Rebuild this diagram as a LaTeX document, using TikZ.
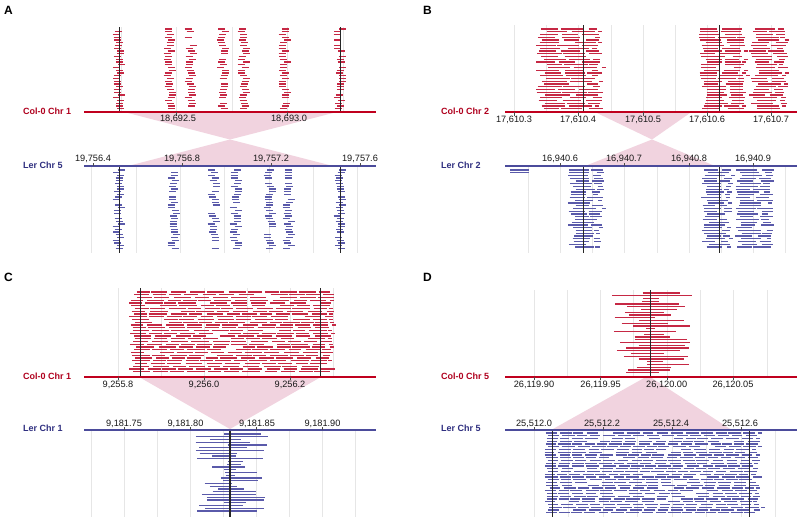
\documentclass[tikz,border=0pt]{standalone}
\usepackage{fontspec}
\setmainfont{Liberation Sans}
\definecolor{axred}{HTML}{C0001E}
\definecolor{labred}{HTML}{B0001E}
\definecolor{readred}{HTML}{C62844}
\definecolor{axblue}{HTML}{4B4B9B}
\definecolor{labblue}{HTML}{2F2F80}
\definecolor{readblue}{HTML}{5A5AAA}
\definecolor{pinkfill}{HTML}{F1D3DF}
\definecolor{gridc}{HTML}{E6E6E6}
\newcommand\fillrow[7]{%
  % #1 y, #2 start min, #3 start jitter, #4 xmax, #5 mean len, #6 len var, #7 max gap
  \pgfmathsetmacro\curx{#2+rnd*#3}%
  \pgfmathsetmacro\rowmax{#4-2+rnd*6}%
  \loop
    \pgfmathsetmacro\curlen{#5+(rnd-0.5)*#6}%
    \pgfmathsetmacro\curlen{max(4,min(\curlen,\rowmax-\curx))}%
    \draw (\curx,#1) -- ++(\curlen,0);
    \pgfmathsetmacro\curx{\curx+\curlen+1+rnd*#7+(rnd<0.07)*12}%
  \ifdim\curx pt<\rowmax pt
  \repeat
}
\newcommand\readcol[6]{% #1 xc, #2 y0, #3 n, #4 step, #5 len, #6 jitter
  \foreach \i in {1,...,#3} {
    \pgfmathsetmacro\yy{#2+(\i-1)*#4}
    \pgfmathsetmacro\xx{#1+(rnd-0.5)*#6-#5/2}
    \pgfmathparse{rnd<0.92}
    \ifdim\pgfmathresult pt>0.5pt \draw (\xx,\yy) -- ++(#5,0); \fi
  }
}
\newcommand\spanrow[5]{%
  \pgfmathsetmacro\xa{#2+rnd*#3}\pgfmathsetmacro\xb{#4+rnd*#5}%
  \draw (\xa,#1) -- (\xb,#1);
}
\tikzset{
  gridline/.style={draw=gridc, line width=0.6pt},
  pinkpoly/.style={fill=pinkfill, draw=none},
  rred/.style={draw=readred, line width=1.35pt},
  rblue/.style={draw=readblue, line width=1.3pt},
  bkline/.style={draw=black!85, line width=0.9pt},
  axisred/.style={draw=axred, line width=1.8pt},
  axisblue/.style={draw=axblue, line width=1.6pt},
  tickm/.style={draw=black!70, line width=0.5pt},
  ticklab/.style={font=\fontsize{9.2}{10}\selectfont, text=black!90, inner sep=0pt},
  chrred/.style={font=\bfseries\fontsize{9}{10}\selectfont, text=labred, anchor=west, inner sep=0pt},
  chrblue/.style={font=\bfseries\fontsize{9}{10}\selectfont, text=labblue, anchor=west, inner sep=0pt},
  panel/.style={font=\bfseries\fontsize{12}{13}\selectfont, inner sep=0pt}
}
\begin{document}
\begin{tikzpicture}[x=1pt,y=-1pt]
\pgfmathsetseed{11}
\useasboundingbox (0,0) rectangle (800,520);
\fill[white] (0,0) rectangle (800,520);

% ================= Panel A =================
\node[panel] (pA) at (8.5,10) {A};
\foreach \gx in {121,176.5,232,287.5,343} \draw[gridline] (\gx,27) -- (\gx,112);
\foreach \gx in {91,136,180,224,269,313,357} \draw[gridline] (\gx,167) -- (\gx,253);
\fill[pinkpoly] (128,113) -- (333,113) -- (230,139.5) -- cycle;
\fill[pinkpoly] (230,139.5) -- (333,166) -- (128,166) -- cycle;
\begin{scope}[rred]
\foreach \cx in {119,170,191,223,244,285,340} {\readcol{\cx}{29}{30}{2.75}{7}{6}}
\end{scope}
\begin{scope}[rblue]
\foreach \cx in {119,174,214,236,270,289,340} {\readcol{\cx}{170}{30}{2.7}{7}{6}}
\end{scope}
\draw[bkline] (119,27) -- (119,112);
\draw[bkline] (340,27) -- (340,112);
\draw[bkline] (119,166) -- (119,253);
\draw[bkline] (340,166) -- (340,253);
\coordinate (a1) at (84,112); \coordinate (a2) at (376,112);
\coordinate (a3) at (84,166); \coordinate (a4) at (376,166);
\draw[axisred] (a1) -- (a2);
\draw[axisblue] (a3) -- (a4);
\foreach \tx in {176,287} \draw[tickm] (\tx,112) -- (\tx,115.5);
\foreach \tx in {93,182,271,360} \draw[tickm] (\tx,166) -- (\tx,162.5);
\node[ticklab] (ta1) at (178,119.3) {18,692.5};
\node[ticklab] (ta2) at (289,119.3) {18,693.0};
\node[ticklab] (ta3) at (93,159) {19,756.4};
\node[ticklab] (ta4) at (182,159) {19,756.8};
\node[ticklab] (ta5) at (271,159) {19,757.2};
\node[ticklab] (ta6) at (360,159) {19,757.6};
\node[chrred] (la1) at (23,111.5) {Col-0 Chr 1};
\node[chrblue] (la2) at (23,165) {Ler Chr 5};

% ================= Panel B =================
\node[panel] (pB) at (427.5,10) {B};
\foreach \gx in {514,546,578,611,643,675,707,739,771} \draw[gridline] (\gx,25) -- (\gx,112);
\foreach \gx in {528,560,592,624,657,689,721,753,785} \draw[gridline] (\gx,167) -- (\gx,253);
\fill[pinkpoly] (597,113) -- (690,113) -- (652,139.5) -- cycle;
\fill[pinkpoly] (652,139.5) -- (715,166) -- (585,166) -- cycle;
\begin{scope}[rred]
\foreach \r in {0,...,29} {
  \pgfmathsetmacro\yy{29+\r*2.75}
  \fillrow{\yy}{536}{12}{599}{20}{10}{7}
  \fillrow{\yy}{699}{8}{743}{19}{10}{7}
  \fillrow{\yy}{749}{10}{784}{19}{10}{7}
}
\end{scope}
\begin{scope}[rblue]
\draw (510,170) -- (529,170);
\draw (510,172.7) -- (529,172.7);
\foreach \r in {0,...,28} {
  \pgfmathsetmacro\yy{170+\r*2.75}
  \fillrow{\yy}{566}{10}{600}{18}{10}{7}
  \fillrow{\yy}{701}{8}{729}{17}{10}{7}
  \fillrow{\yy}{735}{8}{770}{18}{10}{7}
}
\end{scope}
\draw[bkline] (583,25) -- (583,112);
\draw[bkline] (719,25) -- (719,112);
\draw[bkline] (583,166) -- (583,253);
\draw[bkline] (719,166) -- (719,253);
\coordinate (b1) at (505,112); \coordinate (b2) at (797,112);
\coordinate (b3) at (505,166); \coordinate (b4) at (797,166);
\draw[axisred] (b1) -- (b2);
\draw[axisblue] (b3) -- (b4);
\foreach \tx in {514,578,643,707,771} \draw[tickm] (\tx,112) -- (\tx,115.5);
\foreach \tx in {560,624,689,753} \draw[tickm] (\tx,166) -- (\tx,162.5);
\node[ticklab] (tb1) at (514,119.5) {17,610.3};
\node[ticklab] (tb2) at (578,119.5) {17,610.4};
\node[ticklab] (tb3) at (643,119.5) {17,610.5};
\node[ticklab] (tb4) at (707,119.5) {17,610.6};
\node[ticklab] (tb5) at (771,119.5) {17,610.7};
\node[ticklab] (tb6) at (560,159) {16,940.6};
\node[ticklab] (tb7) at (624,159) {16,940.7};
\node[ticklab] (tb8) at (689,159) {16,940.8};
\node[ticklab] (tb9) at (753,159) {16,940.9};
\node[chrred] (lb1) at (441,111.5) {Col-0 Chr 2};
\node[chrblue] (lb2) at (441,165) {Ler Chr 2};

% ================= Panel C =================
\node[panel] (pC) at (8.5,277.5) {C};
\foreach \gx in {118,161,204,247,290,333} \draw[gridline] (\gx,288) -- (\gx,377);
\foreach \gx in {91,124,157,190,223,256,289,322,355} \draw[gridline] (\gx,431) -- (\gx,517);
\fill[pinkpoly] (140,377.5) -- (320,377.5) -- (230,429) -- cycle;
\begin{scope}[rred]
\foreach \r in {0,...,29} {
  \pgfmathsetmacro\yy{292+\r*2.75}
  \fillrow{\yy}{129}{8}{331}{15}{6}{4}
}
\end{scope}
\begin{scope}[rblue]
\foreach \r in {0,...,28} {
  \pgfmathsetmacro\yy{434+\r*2.75}
  \spanrow{\yy}{193}{35}{232}{38}
}
\end{scope}
\draw[bkline] (140,288) -- (140,377);
\draw[bkline] (320,288) -- (320,377);
\draw[draw=black!85, line width=1.8pt] (230,430) -- (230,517);
\coordinate (c1) at (84,376.7); \coordinate (c2) at (376,376.7);
\coordinate (c3) at (84,430); \coordinate (c4) at (376,430);
\draw[axisred] (c1) -- (c2);
\draw[axisblue] (c3) -- (c4);
\foreach \tx in {118,204,290} \draw[tickm] (\tx,376.7) -- (\tx,380.2);
\foreach \tx in {124,190,256,322} \draw[tickm] (\tx,430) -- (\tx,426.5);
\node[ticklab] (tc1) at (118,384.5) {9,255.8};
\node[ticklab] (tc2) at (204,384.5) {9,256.0};
\node[ticklab] (tc3) at (290,384.5) {9,256.2};
\node[ticklab] (tc4) at (124,423.5) {9,181.75};
\node[ticklab] (tc5) at (185.5,423.5) {9,181.80};
\node[ticklab] (tc6) at (257,423.5) {9,181.85};
\node[ticklab] (tc7) at (322.5,423.5) {9,181.90};
\node[chrred] (lc1) at (23,376.5) {Col-0 Chr 1};
\node[chrblue] (lc2) at (23,428) {Ler Chr 1};

% ================= Panel D =================
\node[panel] (pD) at (427.5,277.5) {D};
\foreach \gx in {534,567,600,633,667,700,733,767} \draw[gridline] (\gx,290) -- (\gx,377);
\foreach \gx in {534,568.5,603,637.5,672,706.5,741,775.5} \draw[gridline] (\gx,431) -- (\gx,517);
\fill[pinkpoly] (645,377.5) -- (651,377.5) -- (731,429.5) -- (552,429.5) -- cycle;
\begin{scope}[rred]
\foreach \r in {0,...,29} {
  \pgfmathsetmacro\yy{293+\r*2.75}
  \spanrow{\yy}{612}{36}{652}{40}
}
\end{scope}
\begin{scope}[rblue]
\foreach \r in {0,...,29} {
  \pgfmathsetmacro\yy{433+\r*2.75}
  \fillrow{\yy}{544}{6}{758}{11.5}{4}{3}
}
\end{scope}
\draw[bkline] (650,290) -- (650,377);
\draw[bkline] (552,430) -- (552,517);
\draw[bkline] (749,430) -- (749,517);
\coordinate (d1) at (505,376.7); \coordinate (d2) at (797,376.7);
\coordinate (d3) at (505,430); \coordinate (d4) at (797,430);
\draw[axisred] (d1) -- (d2);
\draw[axisblue] (d3) -- (d4);
\foreach \tx in {534,600,667,733} \draw[tickm] (\tx,376.7) -- (\tx,380.2);
\foreach \tx in {534,603,672,741} \draw[tickm] (\tx,430) -- (\tx,426.5);
\node[ticklab] (td1) at (534,384.5) {26,119.90};
\node[ticklab] (td2) at (600.5,384.5) {26,119.95};
\node[ticklab] (td3) at (666.7,384.5) {26,120.00};
\node[ticklab] (td4) at (733,384.5) {26,120.05};
\node[ticklab] (td5) at (534,423.5) {25,512.0};
\node[ticklab] (td6) at (602,423.5) {25,512.2};
\node[ticklab] (td7) at (671,423.5) {25,512.4};
\node[ticklab] (td8) at (740,423.5) {25,512.6};
\node[chrred] (ld1) at (441,376.5) {Col-0 Chr 5};
\node[chrblue] (ld2) at (441,428) {Ler Chr 5};
\end{tikzpicture}
\end{document}
